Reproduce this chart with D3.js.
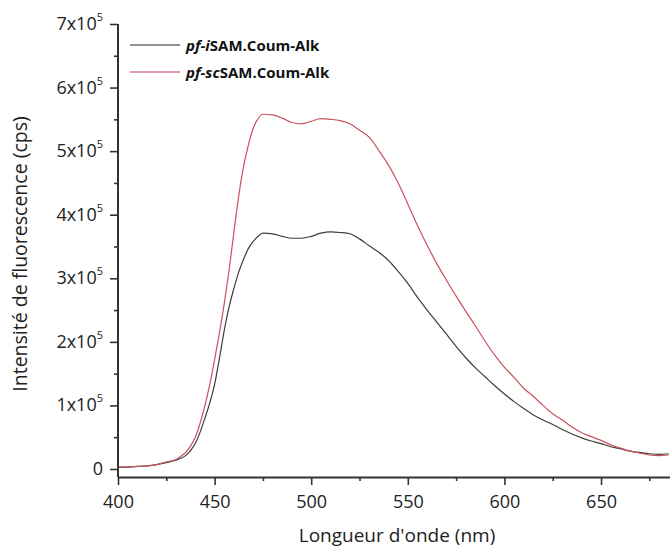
<!DOCTYPE html>
<html>
<head>
<meta charset="utf-8">
<script src="https://cdn.jsdelivr.net/npm/d3@7"></script>
<style>
  html, body { margin: 0; padding: 0; background: #fff; }
  svg { display: block; font-family: "Open Sans", sans-serif; }
</style>
</head>
<body>
<svg id="chart" width="670" height="548"></svg>
<script>
// ---- Data ----
const wavelengths = [400,405,410,415,420,425,430,432.5,435,437.5,440,442.5,445,447.5,450,452.5,455,457.5,460,462.5,465,467.5,470,472.5,475,480,485,490,495,500,505,510,515,520,525,530,535,540,545,550,555,560,565,570,575,580,585,590,595,600,605,610,615,620,625,630,635,640,645,650,655,660,665,670,675,680,685];

const seriesNames = ["pf-iSAM.Coum-Alk", "pf-scSAM.Coum-Alk"];

// intensities in units of 1e5 cps
const iSAM = [0.03,0.03,0.04,0.05,0.07,0.10,0.14,0.17,0.21,0.29,0.40,0.58,0.80,1.04,1.33,1.74,2.18,2.55,2.84,3.10,3.30,3.47,3.58,3.66,3.71,3.70,3.66,3.63,3.63,3.66,3.71,3.73,3.72,3.70,3.62,3.51,3.41,3.28,3.11,2.92,2.70,2.50,2.31,2.12,1.93,1.75,1.59,1.45,1.31,1.18,1.06,0.95,0.85,0.77,0.70,0.62,0.55,0.49,0.44,0.40,0.35,0.32,0.28,0.26,0.24,0.23,0.24];

const scSAM = [0.03,0.03,0.04,0.05,0.07,0.11,0.15,0.20,0.26,0.36,0.50,0.72,1.00,1.33,1.72,2.14,2.60,3.13,3.73,4.30,4.76,5.10,5.36,5.51,5.58,5.57,5.52,5.45,5.43,5.47,5.51,5.50,5.48,5.43,5.33,5.22,5.01,4.78,4.50,4.17,3.83,3.52,3.23,2.97,2.72,2.48,2.25,2.01,1.79,1.60,1.44,1.27,1.14,1.00,0.87,0.77,0.66,0.57,0.51,0.45,0.38,0.33,0.28,0.25,0.22,0.21,0.22];

const xTicks = [400,450,500,550,600,650];
const xMinorTicks = [425,475,525,575,625,675];
const yTicks = [0,1,2,3,4,5,6,7];            // x 1e5
const yMinorTicks = [0.5,1.5,2.5,3.5,4.5,5.5,6.5];

const colors = ["#3d3d3d", "#c9525c"];

// ---- Layout ----
const svg = d3.select("#chart");
const mLeft = 118, mRight = 670, mTop = 24, mBottom = 477;

const x = d3.scaleLinear().domain([400, 685.7]).range([mLeft, mRight]);
const y = d3.scaleLinear().domain([-0.126, 7]).range([mBottom, mTop]);

svg.append("defs").append("clipPath").attr("id", "clip")
  .append("rect").attr("x", mLeft).attr("y", 0).attr("width", mRight - mLeft).attr("height", mBottom);

// curves
const line = d3.line().x(d => x(d[0])).y(d => y(d[1])).curve(d3.curveMonotoneX);
const series = [iSAM, scSAM];
const g = svg.append("g").attr("clip-path", "url(#clip)");
series.forEach((vals, i) => {
  g.append("path")
    .datum(wavelengths.map((w, k) => [w, vals[k]]))
    .attr("fill", "none")
    .attr("stroke", colors[i])
    .attr("stroke-width", 1.2)
    .attr("d", line);
});

// x axis
const xAxis = svg.append("g").attr("transform", `translate(0,${mBottom})`);
xAxis.call(d3.axisBottom(x).tickValues(xTicks).tickSize(8).tickFormat(d3.format("d")).tickSizeOuter(0));
xAxis.append("g").call(d3.axisBottom(x).tickValues(xMinorTicks).tickSize(4).tickFormat("").tickSizeOuter(0))
  .select(".domain").remove();
xAxis.selectAll(".domain").attr("stroke", "#333").attr("stroke-width", 2);
xAxis.selectAll(".tick line").attr("stroke", "#333").attr("stroke-width", 1.6);
xAxis.selectAll(".tick text").attr("font-size", 18).attr("fill", "#222").attr("dy", "1.1em")
  .attr("font-family", "Open Sans, sans-serif");

// y axis
const yAxis = svg.append("g").attr("transform", `translate(${mLeft},0)`);
yAxis.call(d3.axisLeft(y).tickValues(yTicks).tickSize(8).tickFormat("").tickSizeOuter(0));
yAxis.append("g").call(d3.axisLeft(y).tickValues(yMinorTicks).tickSize(4).tickFormat("").tickSizeOuter(0))
  .select(".domain").remove();
yAxis.select(".domain").attr("d", `M0,${mTop}V${mBottom}`);
yAxis.selectAll(".domain").attr("stroke", "#333").attr("stroke-width", 2);
yAxis.selectAll(".tick line").attr("stroke", "#333").attr("stroke-width", 1.6);

// y tick labels with superscript
yTicks.forEach(v => {
  const t = svg.append("text")
    .attr("x", mLeft - 15)
    .attr("y", y(v) + 6)
    .attr("text-anchor", "end")
    .attr("font-size", 18)
    .attr("fill", "#222");
  if (v === 0) {
    t.text("0");
  } else {
    t.append("tspan").text(v + "x10");
    t.append("tspan").attr("font-size", 11).attr("dy", -9).text("5");
  }
});

// axis titles
svg.append("text")
  .attr("x", 397).attr("y", 542)
  .attr("text-anchor", "middle")
  .attr("font-size", 19)
  .attr("fill", "#222")
  .text("Longueur d'onde (nm)");

svg.append("text")
  .attr("transform", `translate(27,${254}) rotate(-90)`)
  .attr("text-anchor", "middle")
  .attr("font-size", 19.5)
  .attr("fill", "#222")
  .text("Intensité de fluorescence (cps)");

// legend
const legendItems = [
  {pre: "pf-i", post: "SAM.Coum-Alk"},
  {pre: "pf-sc", post: "SAM.Coum-Alk"}
];
legendItems.forEach((it, i) => {
  const ly = 45 + i * 27;
  svg.append("line")
    .attr("x1", 130).attr("x2", 180).attr("y1", ly).attr("y2", ly)
    .attr("stroke", colors[i]).attr("stroke-width", 1.4).attr("opacity", 0.75);
  const t = svg.append("text")
    .attr("x", 186).attr("y", ly + 6)
    .attr("font-size", 15)
    .attr("font-weight", "bold")
    .attr("fill", "#111");
  t.append("tspan").attr("font-style", "italic").text(it.pre);
  t.append("tspan").text(it.post);
});
</script>
</body>
</html>
